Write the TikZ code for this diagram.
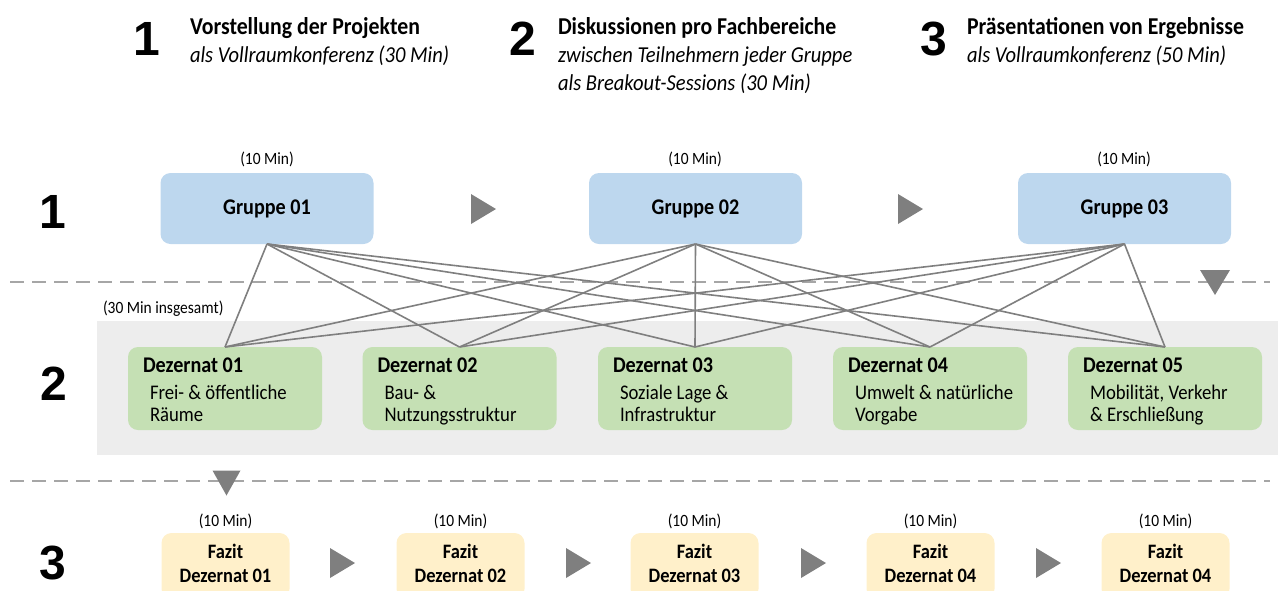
\documentclass[tikz,border=0pt]{standalone}
\usepackage{fontspec}
\setmainfont{Carlito}[FakeStretch=0.9]
\newfontfamily\bignumfont{Liberation Sans}
\definecolor{grpblue}{HTML}{BDD7EE}
\definecolor{dezgreen}{HTML}{C5E0B4}
\definecolor{fazyellow}{HTML}{FFF0CA}
\definecolor{bggray}{HTML}{EDEDED}
\definecolor{linegray}{HTML}{7F7F7F}
\definecolor{dashgray}{HTML}{A6A6A6}
\begin{document}
\begin{tikzpicture}[x=1pt,y=-1pt,
  every node/.style={inner sep=0pt, outer sep=0pt, text=black},
  bignum/.style={font=\bignumfont\bfseries\fontsize{48}{48}\selectfont, anchor=base},
  htitle/.style={font=\bfseries\fontsize{24.2}{24}\selectfont, anchor=base west},
  hsub/.style={font=\itshape\fontsize{22.8}{24}\selectfont, anchor=base west},
  mins/.style={font=\fontsize{17.2}{18}\selectfont, anchor=base},
  grpbox/.style={fill=grpblue, rounded corners=10pt, minimum width=213pt, minimum height=71pt, font=\bfseries\fontsize{22.4}{24}\selectfont},
  dezbox/.style={fill=dezgreen, rounded corners=10pt, minimum width=194pt, minimum height=83pt},
  deztitle/.style={font=\bfseries\fontsize{22.4}{24}\selectfont, anchor=base west},
  dezsub/.style={font=\fontsize{20.8}{22}\selectfont, anchor=base west},
  fazbox/.style={fill=fazyellow, rounded corners=10pt, minimum width=128pt, minimum height=66pt},
  faztext/.style={font=\bfseries\fontsize{20.5}{22}\selectfont, anchor=base},
  conn/.style={draw=linegray, line width=1.6pt},
  sep/.style={draw=dashgray, line width=2pt, dash pattern=on 14pt off 8pt},
  tri/.style={fill=linegray}
]
\useasboundingbox (0,0) rectangle (1278,590);
\clip (0,0) rectangle (1278,590);

% header
\node[bignum] (h1) at (147,55) {1};
\node[htitle] (h1a) at (190,34) {Vorstellung der Projekten};
\node[hsub] (h1b) at (190,62) {als Vollraumkonferenz (30 Min)};
\node[bignum] (h2) at (523,55) {2};
\node[htitle] (h2a) at (558,34) {Diskussionen pro Fachbereiche};
\node[hsub] (h2b) at (558,62) {zwischen Teilnehmern jeder Gruppe};
\node[hsub] (h2c) at (558,90) {als Breakout-Sessions (30 Min)};
\node[bignum] (h3) at (934,55) {3};
\node[htitle] (h3a) at (967,34) {Präsentationen von Ergebnisse};
\node[hsub] (h3b) at (967,62) {als Vollraumkonferenz (50 Min)};

% row labels
\node[bignum] (r1) at (53,228) {1};
\node[bignum] (r2) at (54,400) {2};
\node[bignum] (r3) at (53,579) {3};

% background of row 2
\fill[bggray] (97,321) rectangle (1278,455);

% separators
\draw[sep] (10,282) -- (1270,282);
\draw[sep] (10,481) -- (1270,481);

% row 1
\node[mins] (m1) at (267,164) {(10 Min)};
\node[mins] (m2) at (695,164) {(10 Min)};
\node[mins] (m3) at (1124,164) {(10 Min)};
\node[grpbox] (g1) at (267,208.5) {Gruppe 01};
\node[grpbox] (g2) at (695.5,208.5) {Gruppe 02};
\node[grpbox] (g3) at (1124.5,208.5) {Gruppe 03};
\fill[tri] (483,209) ++(-12,-15) -- ++(25,15) -- ++(-25,15) -- cycle;
\fill[tri] (910,209) ++(-12,-15) -- ++(25,15) -- ++(-25,15) -- cycle;
\fill[tri] (1215,282.5) ++(-15,-12.5) -- ++(30,0) -- ++(-15,25) -- cycle;

% row 2
\node[mins, anchor=base west] (m30) at (103,313) {(30 Min insgesamt)};
\node[dezbox] (d1) at (225,388.5) {};
\node[dezbox] (d2) at (459.5,388.5) {};
\node[dezbox] (d3) at (695,388.5) {};
\node[dezbox] (d4) at (930,388.5) {};
\node[dezbox] (d5) at (1165,388.5) {};

\foreach \g in {g1,g2,g3}{
  \foreach \d in {d1,d2,d3,d4,d5}{
    \draw[conn] (\g.south) -- (\d.north);
  }
}

\node[deztitle] (d1t) at (143,372) {Dezernat 01};
\node[dezsub] (d1s) at (150,399) {Frei- \& öffentliche};
\node[dezsub] (d1u) at (150,421) {Räume};
\node[deztitle] (d2t) at (377.5,372) {Dezernat 02};
\node[dezsub] (d2s) at (384.5,399) {Bau- \&};
\node[dezsub] (d2u) at (384.5,421) {Nutzungsstruktur};
\node[deztitle] (d3t) at (613,372) {Dezernat 03};
\node[dezsub] (d3s) at (620,399) {Soziale Lage \&};
\node[dezsub] (d3u) at (620,421) {Infrastruktur};
\node[deztitle] (d4t) at (848,372) {Dezernat 04};
\node[dezsub] (d4s) at (855,399) {Umwelt \& natürliche};
\node[dezsub] (d4u) at (855,421) {Vorgabe};
\node[deztitle] (d5t) at (1083,372) {Dezernat 05};
\node[dezsub] (d5s) at (1090,399) {Mobilität, Verkehr};
\node[dezsub] (d5u) at (1090,421) {\& Erschließung};

% row 3
\fill[tri] (226.5,483) ++(-14,-12.5) -- ++(28,0) -- ++(-14,25) -- cycle;
\foreach \x/\n/\lab in {225.5/1/01, 460.5/2/02, 694.5/3/03, 930.5/4/04, 1165.5/5/04}{
  \node[mins] (fm\n) at (\x,526) {(10 Min)};
  \node[fazbox] (f\n) at (\x,566) {};
  \node[faztext] (ft\n) at (\x,558) {Fazit};
  \node[faztext] (fd\n) at (\x,582) {Dezernat \lab};
}
\foreach \x in {342,578,813,1048}{
  \fill[tri] (\x,563) ++(-12,-15) -- ++(25,15) -- ++(-25,15) -- cycle;
}
\end{tikzpicture}
\end{document}
